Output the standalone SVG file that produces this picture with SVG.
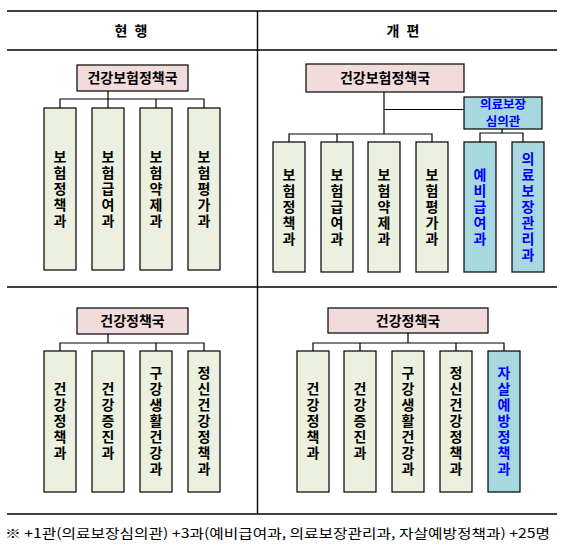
<svg xmlns="http://www.w3.org/2000/svg" width="565" height="552" viewBox="0 0 565 552">
<style>
.rule{stroke:#000;stroke-width:1.4;fill:none}
.con{stroke:#000;stroke-width:1.2;fill:none}
.parent{fill:#F2DCDB;stroke:#000;stroke-width:1.2}
.child{fill:#EBF1DE;stroke:#000;stroke-width:1.2}
.newb{fill:#A8D8DF;stroke:#000;stroke-width:1.2}
text{font-family:"Noto Sans CJK KR","Noto Sans",sans-serif;font-weight:bold;fill:#000}
.pt{font-size:14px;text-anchor:middle}
.st{font-size:12.5px;text-anchor:middle}
.vt{font-size:14px;text-anchor:middle;writing-mode:vertical-rl;letter-spacing:2px;text-orientation:upright}
.blue{fill:#0000FF}
.hd{font-size:14px;text-anchor:middle;letter-spacing:2px}
.note{font-size:13px;font-weight:normal}
</style>
<rect width="565" height="552" fill="#fff"/>
<g id="table">
<line class="rule" x1="7" y1="11" x2="557" y2="11"/>
<line class="rule" x1="7" y1="50" x2="557" y2="50"/>
<line class="rule" x1="7" y1="287" x2="557" y2="287"/>
<line class="rule" x1="7" y1="514" x2="557" y2="514"/>
<line class="rule" x1="257.5" y1="11" x2="257.5" y2="514"/>
<text class="hd" x="132" y="36">현 행</text>
<text class="hd" x="404" y="36">개 편</text>
</g>
<g id="connectors">
<path class="con" d="M108 91V99M60 108V99H204V108M108 99V108M156 99V108"/>
<path class="con" d="M384 92V134M384 109.5H464M289 142V134H432V142M337 134V142M502 129V133M480 142V133H523V142"/>
<path class="con" d="M108 334V343M60 351V343H204V351M156 343V351"/>
<path class="con" d="M408 333V343M313 351V343H504V351M360 343V351M456 343V351"/>
</g>
<g id="tl-parent"><rect class="parent" x="77" y="65" width="111" height="26"/><text class="pt" x="132.5" y="83">건강보험정책국</text></g>
<g id="tl-c1"><rect class="child" x="44" y="108" width="32" height="162"/><text class="vt" x="60" y="190">보험정책과</text></g>
<g id="tl-c2"><rect class="child" x="92" y="108" width="32" height="162"/><text class="vt" x="108" y="190">보험급여과</text></g>
<g id="tl-c3"><rect class="child" x="140" y="108" width="32" height="162"/><text class="vt" x="156" y="190">보험약제과</text></g>
<g id="tl-c4"><rect class="child" x="188" y="108" width="32" height="162"/><text class="vt" x="204" y="190">보험평가과</text></g>
<g id="tr-parent"><rect class="parent" x="306" y="64" width="158" height="28"/><text class="pt" x="385" y="83">건강보험정책국</text></g>
<g id="tr-office"><rect class="newb" x="464" y="97" width="78" height="32"/><text class="st blue" x="503" y="108.5">의료보장</text><text class="st blue" x="503" y="126">심의관</text></g>
<g id="tr-c1"><rect class="child" x="273" y="142" width="32" height="130"/><text class="vt" x="289" y="208">보험정책과</text></g>
<g id="tr-c2"><rect class="child" x="321" y="142" width="32" height="130"/><text class="vt" x="337" y="208">보험급여과</text></g>
<g id="tr-c3"><rect class="child" x="368" y="142" width="32" height="130"/><text class="vt" x="384" y="208">보험약제과</text></g>
<g id="tr-c4"><rect class="child" x="416" y="142" width="32" height="130"/><text class="vt" x="432" y="208">보험평가과</text></g>
<g id="tr-c5"><rect class="newb" x="464" y="142" width="32" height="130"/><text class="vt blue" x="480" y="208">예비급여과</text></g>
<g id="tr-c6"><rect class="newb" x="512" y="142" width="32" height="130"/><text class="vt blue" x="528" y="208">의료보장관리과</text></g>
<g id="bl-parent"><rect class="parent" x="77" y="308" width="111" height="26"/><text class="pt" x="132.5" y="326">건강정책국</text></g>
<g id="bl-c1"><rect class="child" x="44" y="351" width="32" height="141"/><text class="vt" x="60" y="422">건강정책과</text></g>
<g id="bl-c2"><rect class="child" x="92" y="351" width="32" height="141"/><text class="vt" x="108" y="422">건강증진과</text></g>
<g id="bl-c3"><rect class="child" x="140" y="351" width="32" height="141"/><text class="vt" x="156" y="422">구강생활건강과</text></g>
<g id="bl-c4"><rect class="child" x="188" y="351" width="32" height="141"/><text class="vt" x="204" y="422">정신건강정책과</text></g>
<g id="br-parent"><rect class="parent" x="328" y="308" width="160" height="25"/><text class="pt" x="408" y="326">건강정책국</text></g>
<g id="br-c1"><rect class="child" x="297" y="351" width="32" height="141"/><text class="vt" x="313" y="422">건강정책과</text></g>
<g id="br-c2"><rect class="child" x="344" y="351" width="32" height="141"/><text class="vt" x="360" y="422">건강증진과</text></g>
<g id="br-c3"><rect class="child" x="392" y="351" width="32" height="141"/><text class="vt" x="408" y="422">구강생활건강과</text></g>
<g id="br-c4"><rect class="child" x="440" y="351" width="32" height="141"/><text class="vt" x="456" y="422">정신건강정책과</text></g>
<g id="br-c5"><rect class="newb" x="488" y="351" width="32" height="141"/><text class="vt blue" x="504" y="422">자살예방정책과</text></g>
<g id="footnote"><text class="note" x="5" y="538" textLength="545" lengthAdjust="spacingAndGlyphs">※  +1관(의료보장심의관)  +3과(예비급여과, 의료보장관리과, 자살예방정책과)  +25명</text></g>
</svg>
